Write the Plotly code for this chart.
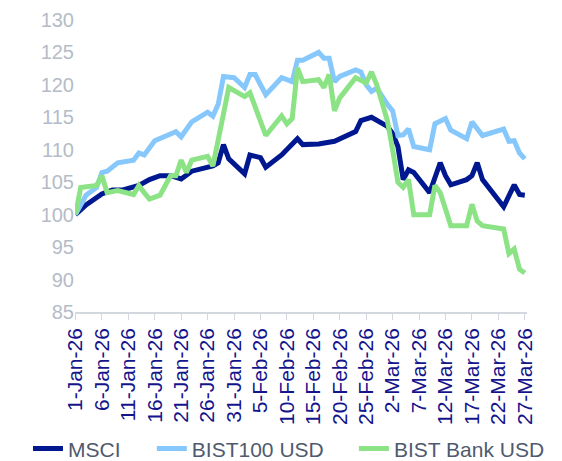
import plotly.graph_objects as go

msci_dates = ["2026-01-01","2026-01-03","2026-01-06","2026-01-08","2026-01-10","2026-01-13","2026-01-15",
              "2026-01-17","2026-01-19","2026-01-21","2026-01-23","2026-01-27","2026-01-28","2026-01-29",
              "2026-01-30","2026-02-02","2026-02-03","2026-02-05","2026-02-06","2026-02-09","2026-02-12",
              "2026-02-13","2026-02-16","2026-02-19","2026-02-23","2026-02-24","2026-02-26","2026-03-01",
              "2026-03-02","2026-03-03","2026-03-04","2026-03-05","2026-03-06","2026-03-09","2026-03-11",
              "2026-03-12","2026-03-13","2026-03-16","2026-03-17","2026-03-18","2026-03-19","2026-03-23",
              "2026-03-25","2026-03-26","2026-03-27"]
msci_values = [100, 101.5, 103.2, 103.8, 103.8, 104.5, 105.4,
               106, 106, 105.5, 106.7, 107.5, 108, 110.8,
               108.6, 106.3, 109.2, 108.8, 107.3, 109.2, 111.7,
               110.8, 110.9, 111.3, 112.8, 114.5, 115, 113.6,
               112.5, 110.5, 105.4, 106.9, 106.5, 103.4, 108,
               106, 104.6, 105.4, 106, 108, 105.4, 101.2,
               104.6, 103.1, 103]

bist100_dates = ["2026-01-01","2026-01-03","2026-01-05","2026-01-06","2026-01-07","2026-01-09","2026-01-12",
                 "2026-01-13","2026-01-14","2026-01-16","2026-01-20","2026-01-21","2026-01-23","2026-01-26",
                 "2026-01-27","2026-01-28","2026-01-29","2026-01-31","2026-02-02","2026-02-03","2026-02-04",
                 "2026-02-06","2026-02-09","2026-02-11","2026-02-12","2026-02-13","2026-02-16","2026-02-17",
                 "2026-02-18","2026-02-19","2026-02-20","2026-02-23","2026-02-24","2026-02-25","2026-02-26",
                 "2026-02-27","2026-03-01","2026-03-02","2026-03-03","2026-03-04","2026-03-05","2026-03-06",
                 "2026-03-09","2026-03-10","2026-03-12","2026-03-13","2026-03-16","2026-03-17","2026-03-19",
                 "2026-03-23","2026-03-24","2026-03-25","2026-03-26","2026-03-27"]
bist100_values = [100, 103, 104.2, 106.5, 106.7, 108, 108.4,
                  109.5, 109.2, 111.4, 112.8, 112, 114.3, 115.8,
                  115.2, 117, 121.3, 121.1, 119.6, 121.6, 121.6,
                  118.5, 121.1, 120.5, 123.8, 123.8, 125, 124.1,
                  124.1, 120.5, 121.3, 122.3, 122, 120, 119,
                  119.5, 117, 116, 112.2, 112.3, 113.2, 110.5,
                  110, 114, 114.8, 113, 111.7, 114.3, 112.2,
                  113.2, 111.3, 111.4, 109.5, 108.6]

bank_dates = ["2026-01-01","2026-01-02","2026-01-05","2026-01-06","2026-01-07","2026-01-09","2026-01-12",
              "2026-01-13","2026-01-14","2026-01-15","2026-01-17","2026-01-19","2026-01-20","2026-01-21",
              "2026-01-22","2026-01-23","2026-01-26","2026-01-27","2026-01-29","2026-01-30","2026-02-02",
              "2026-02-03","2026-02-06","2026-02-09","2026-02-10","2026-02-11","2026-02-12","2026-02-13",
              "2026-02-16","2026-02-17","2026-02-18","2026-02-19","2026-02-20","2026-02-23","2026-02-25",
              "2026-02-26","2026-02-27","2026-03-01","2026-03-02","2026-03-03","2026-03-04","2026-03-05",
              "2026-03-06","2026-03-09","2026-03-10","2026-03-11","2026-03-13","2026-03-16","2026-03-17",
              "2026-03-18","2026-03-19","2026-03-23","2026-03-24","2026-03-25","2026-03-26","2026-03-27"]
bank_values = [100, 104.2, 104.5, 106, 103.4, 103.7, 103.1,
               104.5, 103.4, 102.4, 103, 106, 106, 108.4,
               106.5, 108.4, 109, 107.5, 115.5, 119.6, 118.2,
               118.8, 112.2, 115.2, 114, 114.8, 122.6, 120.5,
               120.8, 119.6, 121.6, 116, 118, 121.1, 120.3,
               122, 120, 114.5, 110, 105, 104.2, 105.4,
               100, 100, 104.5, 103.4, 98.3, 98.3, 101.6,
               99, 98.3, 97.8, 94, 94.7, 91.6, 91]

series_names = ["MSCI", "BIST100 USD", "BIST Bank USD"]
series_colors = ["#00188F", "#87C8FC", "#8CE386"]
y_ticks = [85, 90, 95, 100, 105, 110, 115, 120, 125, 130]

legend_ids = ["legend", "legend2", "legend3"]
legend_x = [-0.104, 0.170, 0.617]

fig = go.Figure()
for name, xs, ys, col, lg in zip(series_names,
                                 [msci_dates, bist100_dates, bank_dates],
                                 [msci_values, bist100_values, bank_values],
                                 series_colors, legend_ids):
    fig.add_trace(go.Scatter(x=xs, y=ys, name=name, mode="lines",
                             line=dict(color=col, width=5), legend=lg))

legend_common = dict(orientation="h", xanchor="left", y=-0.469, yanchor="middle",
                     font=dict(size=21, color="#505A6E"),
                     bgcolor="rgba(0,0,0,0)")
fig.update_layout(
    width=562, height=461,
    margin=dict(l=67, r=43, t=12, b=157, autoexpand=False),
    paper_bgcolor="white", plot_bgcolor="white",
    font=dict(family="Liberation Sans, Arial, sans-serif"),
    showlegend=True,
    legend=dict(x=legend_x[0], **legend_common),
    legend2=dict(x=legend_x[1], **legend_common),
    legend3=dict(x=legend_x[2], **legend_common),
)
fig.update_xaxes(
    type="date",
    range=["2025-12-31 22:00", "2026-03-27 10:00"],
    tick0="2026-01-01", dtick=5 * 86400000,
    tickformat="%-d-%b-%y", tickangle=-90,
    tickfont=dict(size=21, color="#14148C"),
    showgrid=False, showline=True, linecolor="#D3D8DF", linewidth=1.5,
    ticks="outside", ticklen=6, tickcolor="#D3D8DF",
    zeroline=False, ticklabeloverflow="allow",
)
fig.update_yaxes(
    range=[85, 130], tickvals=y_ticks,
    tickfont=dict(size=20, color="#B4BCC8"),
    showgrid=False, showline=False, zeroline=False, ticks="",
    ticklabeloverflow="allow",
)

fig.write_html("out.html")
